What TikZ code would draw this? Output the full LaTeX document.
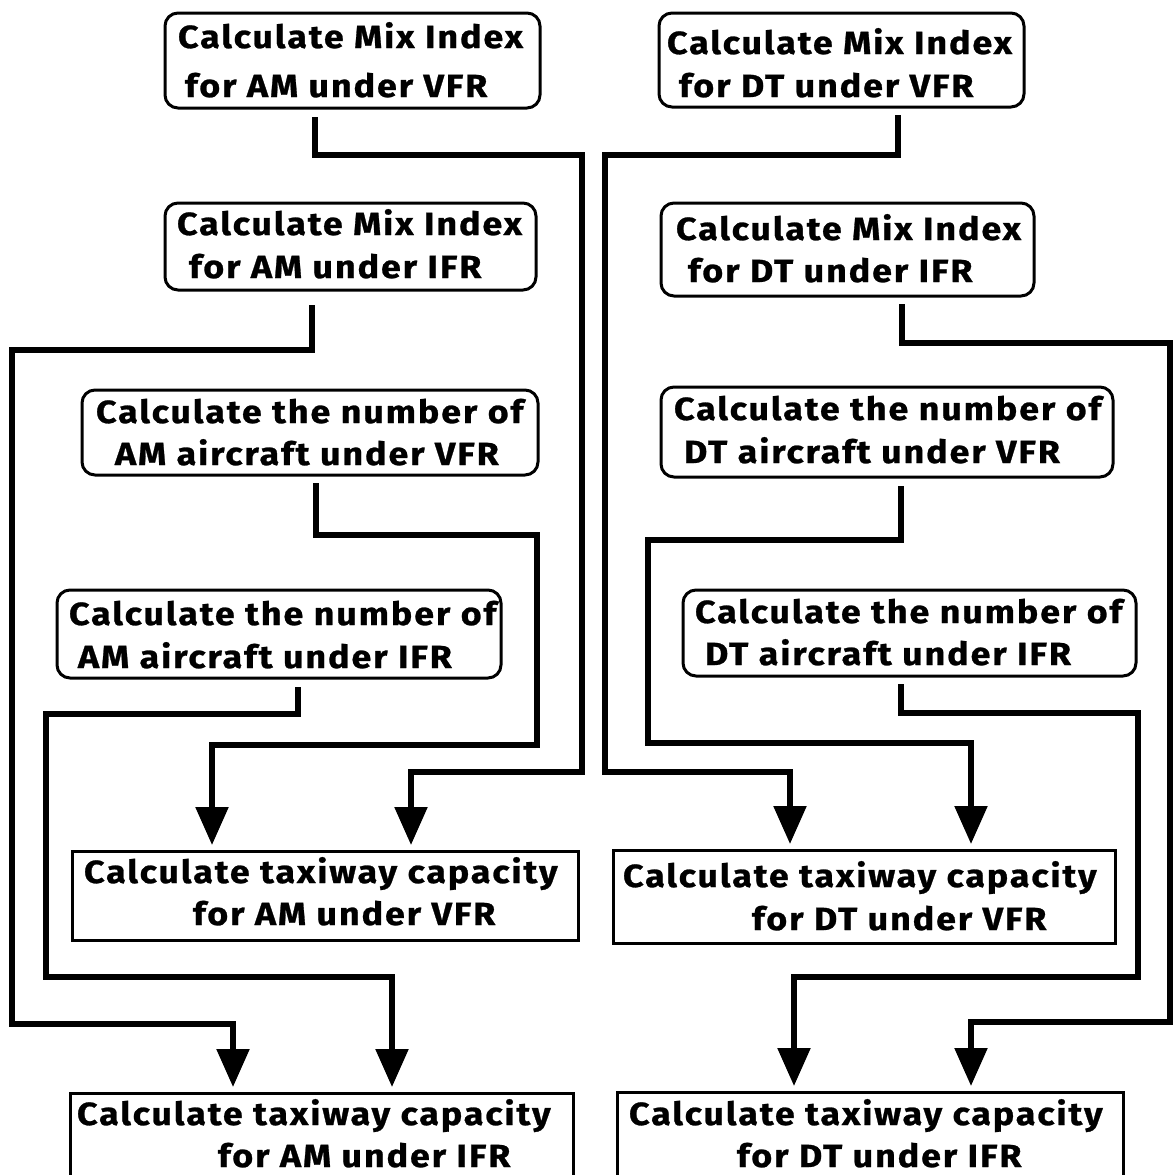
\documentclass[tikz,border=0pt]{standalone}
\usepackage{fontspec}
\newfontfamily\chic{Fira Sans}[FakeStretch=1.12,LetterSpace=6,FakeBold=0.8]
\usetikzlibrary{arrows.meta,calc}
\begin{document}
\begin{tikzpicture}[x=1pt,y=-1pt,
  rbox/.style={draw, line width=3pt, rounded corners=13pt, inner sep=0pt, outer sep=0pt, anchor=north west},
  sbox/.style={draw, line width=3pt, inner sep=0pt, outer sep=0pt, anchor=north west},
  txt/.style={anchor=base west, inner sep=0pt, outer sep=0pt, font=\chic\bfseries\fontsize{32}{38}\selectfont},
  conn/.style={line width=5.5pt, line join=miter, -{Triangle[width=32pt,length=38pt]}, shorten >=6pt}]
\useasboundingbox (0,0) rectangle (1173,1175);
\fill[white] (0,0) rectangle (1173,1175);

% rounded boxes
\node[rbox, minimum width=375pt, minimum height=95pt] (a1) at (165,13) {};
\node[rbox, minimum width=365pt, minimum height=94pt] (b1) at (659,13) {};
\node[rbox, minimum width=371pt, minimum height=87pt] (a2) at (165,203) {};
\node[rbox, minimum width=373pt, minimum height=93pt] (b2) at (661,203) {};
\node[rbox, minimum width=456pt, minimum height=85pt] (a3) at (82,390) {};
\node[rbox, minimum width=452pt, minimum height=90pt] (b3) at (661,387) {};
\node[rbox, minimum width=444pt, minimum height=88pt] (a4) at (57,590) {};
\node[rbox, minimum width=453pt, minimum height=86pt] (b4) at (683,590) {};
% square boxes
\node[sbox, minimum width=506pt, minimum height=89pt] (a5) at (72,851) {};
\node[sbox, minimum width=502pt, minimum height=93pt] (b5) at (613,850) {};
\node[sbox, minimum width=503pt, minimum height=95pt] (a6) at (70,1093) {};
\node[sbox, minimum width=506pt, minimum height=95pt] (b6) at (617,1092) {};

% texts
\node[txt] (a1l1) at (178,48) {Calculate Mix Index};
\node[txt] (a1l2) at (185,97) {for AM under VFR};
\node[txt] (b1l1) at (667,54) {Calculate Mix Index};
\node[txt] (b1l2) at (679,97) {for DT under VFR};
\node[txt] (a2l1) at (177,235) {Calculate Mix Index};
\node[txt] (a2l2) at (189,278) {for AM under IFR};
\node[txt] (b2l1) at (676,240) {Calculate Mix Index};
\node[txt] (b2l2) at (688,282) {for DT under IFR};
\node[txt] (a3l1) at (96,423) {Calculate the number of};
\node[txt] (a3l2) at (115,465) {AM aircraft under VFR};
\node[txt] (b3l1) at (674,420) {Calculate the number of};
\node[txt] (b3l2) at (684,463) {DT aircraft under VFR};
\node[txt] (a4l1) at (69,625) {Calculate the number of};
\node[txt] (a4l2) at (78,668) {AM aircraft under IFR};
\node[txt] (b4l1) at (695,623) {Calculate the number of};
\node[txt] (b4l2) at (705,665) {DT aircraft under IFR};
\node[txt] (a5l1) at (84,883) {Calculate taxiway capacity};
\node[txt] (a5l2) at (193,925) {for AM under VFR};
\node[txt] (b5l1) at (623,887) {Calculate taxiway capacity};
\node[txt] (b5l2) at (752,930) {for DT under VFR};
\node[txt] (a6l1) at (77,1125) {Calculate taxiway capacity};
\node[txt] (a6l2) at (218,1167) {for AM under IFR};
\node[txt] (b6l1) at (629,1125) {Calculate taxiway capacity};
\node[txt] (b6l2) at (737,1167) {for DT under IFR};

% connectors
\draw[conn] ($(a1.south)+(-37.5,9)$) |- (582,155) |- (411,772) -- (411,772 |- a5.north);
\draw[conn] ($(b1.south)+(56.5,8)$) |- (605,155) |- (790,772) -- (790,772 |- b5.north);
\draw[conn] ($(a2.south)+(-38.5,15)$) |- (12,350) |- (233,1024) -- (233,1024 |- a6.north);
\draw[conn] ($(b2.south)+(54.5,8)$) |- (1170,343) |- (971,1022) -- (971,1022 |- b6.north);
\draw[conn] ($(a3.south)+(6,8)$) |- (537,535) |- (212,745) -- (212,745 |- a5.north);
\draw[conn] ($(b3.south)+(14,9)$) |- (648,540) |- (971,743) -- (971,743 |- b5.north);
\draw[conn] ($(a4.south)+(19,9)$) |- (46,714) |- (392,977) -- (392,977 |- a6.north);
\draw[conn] ($(b4.south)+(-8.5,8)$) |- (1138,713) |- (794,977) -- (794,977 |- b6.north);
\end{tikzpicture}
\end{document}
